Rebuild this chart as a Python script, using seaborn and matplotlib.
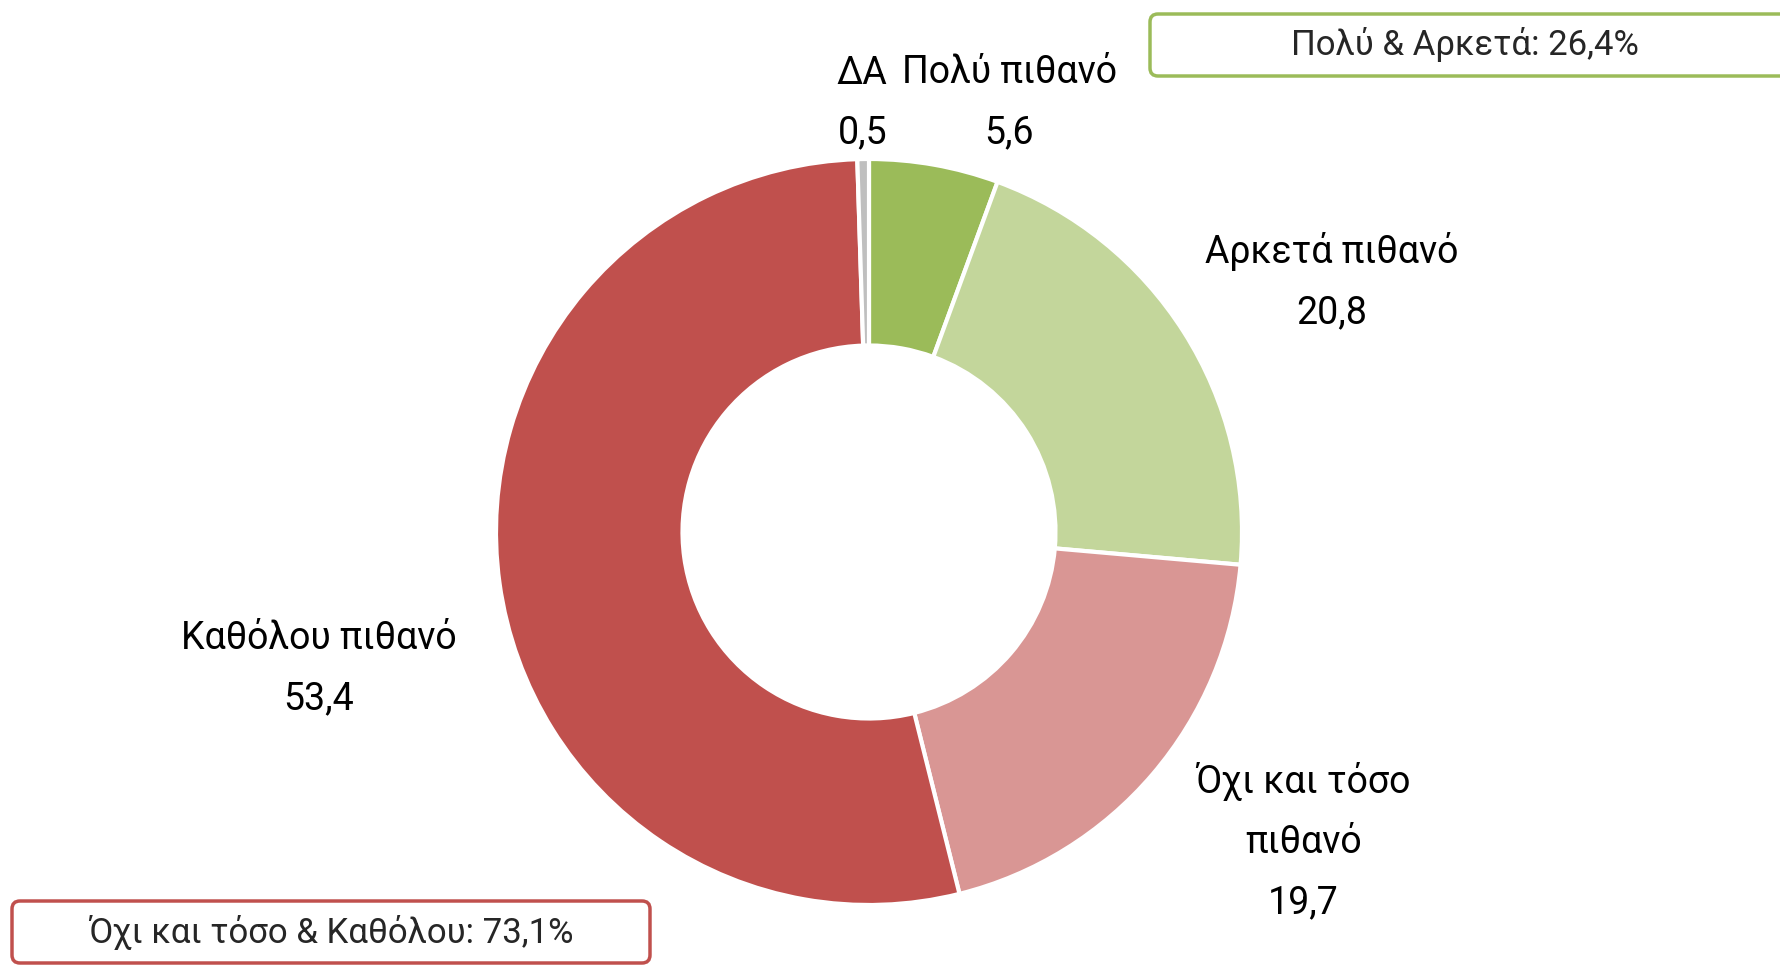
import matplotlib
matplotlib.use("Agg")
import matplotlib.pyplot as plt
from matplotlib.patches import FancyBboxPatch
import numpy as np
import seaborn as sns

# ── Data ──────────────────────────────────────────────────────────────────────
categories = ["Πολύ πιθανό", "Αρκετά πιθανό", "Όχι και τόσο\nπιθανό", "Καθόλου πιθανό", "ΔΑ"]
values = [5.6, 20.8, 19.7, 53.4, 0.5]
colors = ["#9BBB59", "#C3D69B", "#D99694", "#C0504D", "#BFBFBF"]

# label placement (radius factor, angle nudge in degrees)
label_radius = [1.21, 1.41, 1.43, 1.52, 1.15]
label_nudge = [8, 4, -5, -6, 0]

W, H = 1781, 965
CX, CY, R = 869, 965 - 532, 373


def fmt(v):
    return f"{v:.1f}".replace(".", ",")


sns.set_theme(style="white")
plt.rcParams["font.family"] = ["Roboto", "DejaVu Sans"]

fig = plt.figure(figsize=(W / 100, H / 100), dpi=100)
ax = fig.add_axes([0, 0, 1, 1])

wedges, _ = ax.pie(
    values,
    colors=sns.color_palette(colors),
    startangle=90,
    counterclock=False,
    center=(CX, CY),
    radius=R,
    wedgeprops=dict(width=R * 0.5, edgecolor="white", linewidth=3),
    frame=True,
)
ax.set_xlim(0, W)
ax.set_ylim(0, H)
ax.set_aspect("equal")
ax.axis("off")

# ── Data labels ──────────────────────────────────────────────────────────────
for w, cat, v, rf, nd in zip(wedges, categories, values, label_radius, label_nudge):
    mid = np.deg2rad((w.theta1 + w.theta2) / 2 - nd)
    x = CX + rf * R * np.cos(mid)
    y = CY + rf * R * np.sin(mid)
    ax.text(x, y, f"{cat}\n{fmt(v)}", ha="center", va="center",
            fontsize=27, color="black", linespacing=1.8)

# ── Summary boxes ────────────────────────────────────────────────────────────
pos_total = values[0] + values[1]
neg_total = values[2] + values[3]

green_box = FancyBboxPatch((1150, H - 76), 660, 62, boxstyle="round,pad=0,rounding_size=8",
                           fc="white", ec="#9BBB59", lw=2.5)
ax.add_patch(green_box)
ax.text(1465, H - 44, f"Πολύ & Αρκετά: {fmt(pos_total)}%", ha="center", va="center",
        fontsize=25)

red_box = FancyBboxPatch((12, H - 963), 638, 62, boxstyle="round,pad=0,rounding_size=8",
                         fc="white", ec="#C0504D", lw=2.5)
ax.add_patch(red_box)
ax.text(331, H - 933, f"Όχι και τόσο & Καθόλου: {fmt(neg_total)}%", ha="center", va="center",
        fontsize=25)

fig.savefig("out.png", dpi=100)
